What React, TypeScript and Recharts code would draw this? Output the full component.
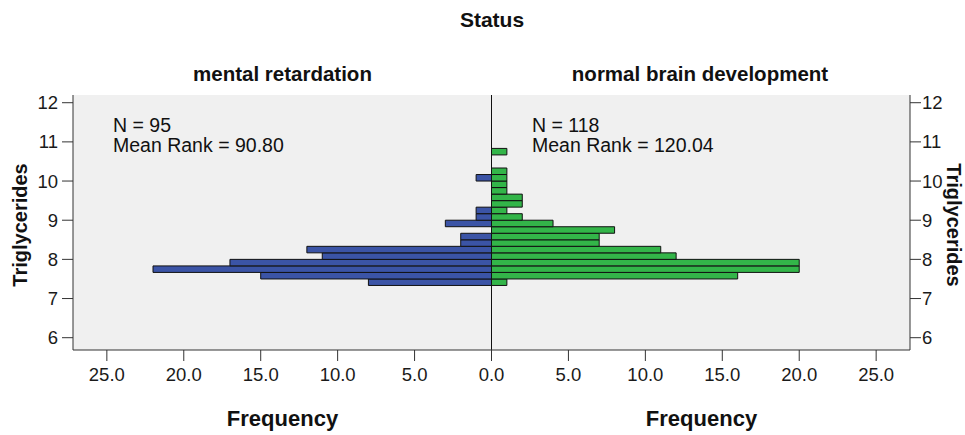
import { Bar, BarChart, CartesianGrid, ReferenceLine, XAxis, YAxis } from "recharts";

// triglyceride bins (centre of each 1/6-wide bin)
const binCenters = [
  7.417, 7.583, 7.75, 7.917, 8.083, 8.25, 8.417, 8.583, 8.75, 8.917, 9.083,
  9.25, 9.417, 9.583, 9.75, 9.917, 10.083, 10.25, 10.417, 10.583, 10.75,
];
const mentalRetardation = [8, 15, 22, 17, 11, 12, 2, 2, 0, 3, 1, 1, 0, 0, 0, 0, 1, 0, 0, 0, 0];
const normalBrain = [1, 16, 20, 20, 12, 11, 7, 7, 8, 4, 2, 1, 2, 2, 1, 1, 1, 1, 0, 0, 1];

const yTicks = [6, 7, 8, 9, 10, 11, 12];
const xTicks = [-25, -20, -15, -10, -5, 0, 5, 10, 15, 20, 25];

const data = binCenters.map((bin, i) => ({
  bin,
  mr: -mentalRetardation[i],
  nb: normalBrain[i],
}));

const FONT = '"Liberation Sans", Arial, sans-serif';
const AXIS = "#333";
const tickStyle = { fill: "#1a1a1a", fontSize: 18.5, fontFamily: FONT };

const App = () => {
  return (
    <div style={{ position: "absolute", left: 0, top: 0, width: 965, height: 435, background: "#fff" }}>
      <BarChart
        width={965}
        height={435}
        data={data}
        layout="vertical"
        stackOffset="sign"
        margin={{ top: 95, right: 10, bottom: 45, left: 28 }}
      >
        <CartesianGrid xAxisId="b" yAxisId="l" horizontal={false} vertical={false} fill="#f0f0f0" />
        <XAxis
          xAxisId="b"
          type="number"
          domain={[-27.2, 27.2]}
          ticks={xTicks}
          interval={0}
          allowDataOverflow
          tickFormatter={(v: number) => Math.abs(v).toFixed(1)}
          height={40}
          tickSize={11}
          tickMargin={7}
          stroke={AXIS}
          tick={tickStyle}
        />
        <XAxis
          xAxisId="t"
          type="number"
          orientation="top"
          domain={[-27.2, 27.2]}
          allowDataOverflow
          height={0}
          tick={false}
          tickLine={false}
          stroke={AXIS}
        />
        <YAxis
          yAxisId="l"
          type="number"
          dataKey="bin"
          reversed
          domain={[5.686, 12.197]}
          ticks={yTicks}
          interval={0}
          allowDataOverflow
          width={45}
          tickSize={11}
          tickMargin={4}
          stroke={AXIS}
          tick={tickStyle}
        />
        <YAxis
          yAxisId="r"
          type="number"
          dataKey="bin"
          orientation="right"
          reversed
          domain={[5.686, 12.197]}
          ticks={yTicks}
          interval={0}
          allowDataOverflow
          width={45}
          tickSize={11}
          tickMargin={1}
          stroke={AXIS}
          tick={tickStyle}
        />
        <Bar
          xAxisId="b"
          yAxisId="l"
          dataKey="mr"
          stackId="s"
          fill="#3b54a6"
          stroke="#111"
          strokeWidth={1}
          barSize={6.5}
          isAnimationActive={false}
        />
        <Bar
          xAxisId="b"
          yAxisId="l"
          dataKey="nb"
          stackId="s"
          fill="#33b549"
          stroke="#111"
          strokeWidth={1}
          barSize={6.5}
          isAnimationActive={false}
        />
        <ReferenceLine xAxisId="b" yAxisId="l" x={0} stroke="#111" strokeWidth={1} />
      </BarChart>
      <svg
        width={965}
        height={435}
        style={{ position: "absolute", left: 0, top: 0, pointerEvents: "none" }}
        fontFamily={FONT}
        fill="#111"
      >
        <text x={492} y={26.5} textAnchor="middle" fontSize={21} fontWeight="bold">Status</text>
        <text x={282.5} y={81} textAnchor="middle" fontSize={20.5} fontWeight="bold">mental retardation</text>
        <text x={700} y={81} textAnchor="middle" fontSize={20.5} fontWeight="bold">normal brain development</text>

        <text x={113} y={131.5} fontSize={19.5}>N = 95</text>
        <text x={113} y={151.7} fontSize={19.5}>Mean Rank = 90.80</text>
        <text x={532} y={131.5} fontSize={19.5}>N = 118</text>
        <text x={532} y={151.7} fontSize={19.5}>Mean Rank = 120.04</text>

        <text transform="translate(27,225) rotate(-90)" textAnchor="middle" fontSize={20} fontWeight="bold">Triglycerides</text>
        <text transform="translate(947,225) rotate(90)" textAnchor="middle" fontSize={20} fontWeight="bold">Triglycerides</text>

        <text x={282.5} y={425.7} textAnchor="middle" fontSize={22} fontWeight="bold">Frequency</text>
        <text x={701.5} y={425.7} textAnchor="middle" fontSize={22} fontWeight="bold">Frequency</text>
      </svg>
    </div>
  );
};

export default App;
